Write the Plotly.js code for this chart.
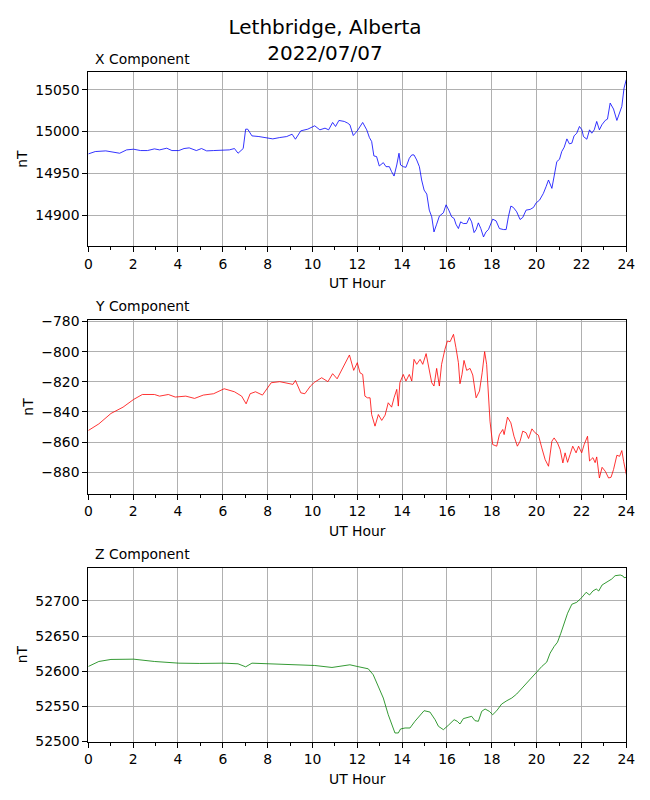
<!DOCTYPE html>
<html>
<head>
<meta charset="utf-8">
<script src="https://cdn.plot.ly/plotly-3.0.1.min.js"></script>
<style>
  body { margin: 0; background: #fff; }
  #chart { width: 650px; height: 800px; }
</style>
</head>
<body>
<div id="chart"></div>
<script>
// Values (UT hour, nT)
const xHours = [0, 0.31, 0.78, 1.09, 1.40, 1.71, 2.02, 2.33, 2.64, 2.95, 3.18, 3.50, 3.73, 4.04, 4.27, 4.50, 4.82, 5.05, 5.28, 5.59, 5.98, 6.29, 6.52, 6.68, 6.91, 7.02, 7.11, 7.30, 7.61, 7.92, 8.23, 8.54, 8.85, 9.09, 9.24, 9.48, 9.79, 10.10, 10.33, 10.56, 10.72, 10.90, 11.03, 11.18, 11.42, 11.57, 11.67, 11.82, 12.00, 12.24, 12.42, 12.54, 12.64, 12.74, 12.86, 12.98, 13.16, 13.28, 13.43, 13.53, 13.64, 13.76, 13.86, 13.93, 14.05, 14.17, 14.32, 14.43, 14.53, 14.65, 14.77, 14.87, 14.98, 15.10, 15.21, 15.32, 15.42, 15.54, 15.66, 15.84, 15.96, 16.08, 16.21, 16.32, 16.40, 16.51, 16.61, 16.73, 16.88, 17.00, 17.10, 17.21, 17.30, 17.40, 17.51, 17.63, 17.74, 17.85, 17.95, 18.04, 18.19, 18.34, 18.52, 18.64, 18.74, 18.85, 18.96, 19.11, 19.26, 19.38, 19.53, 19.71, 19.86, 19.98, 20.13, 20.30, 20.42, 20.53, 20.68, 20.78, 20.90, 21.02, 21.12, 21.23, 21.35, 21.46, 21.57, 21.67, 21.79, 21.91, 22.02, 22.09, 22.24, 22.36, 22.46, 22.57, 22.68, 22.80, 22.91, 23.06, 23.16, 23.28, 23.43, 23.58, 23.70, 23.80, 23.90, 24.00];
const xValues = [14973.4, 14976.2, 14977.0, 14975.4, 14974.2, 14978.2, 14979.0, 14977.4, 14977.4, 14979.4, 14978.2, 14980.2, 14977.4, 14977.4, 14979.8, 14980.6, 14977.4, 14979.8, 14977.0, 14977.4, 14977.8, 14978.2, 14979.8, 14974.2, 14979.8, 15002.9, 15002.9, 14994.9, 14994.1, 14992.9, 14991.3, 14992.9, 14994.1, 14996.9, 14990.9, 15000.9, 15002.9, 15006.9, 15002.1, 15004.1, 15002.1, 15010.9, 15006.1, 15013.3, 15012.1, 15010.1, 15008.1, 14995.3, 15000.9, 15010.9, 15002.1, 14992.9, 14988.2, 14971.0, 14970.2, 14959.0, 14963.0, 14958.2, 14958.2, 14952.2, 14947.0, 14960.2, 14974.2, 14960.2, 14958.2, 14957.4, 14968.2, 14972.2, 14972.2, 14966.2, 14958.2, 14942.3, 14930.3, 14925.5, 14906.4, 14898.4, 14880.4, 14889.6, 14899.2, 14903.2, 14912.7, 14906.4, 14898.4, 14896.4, 14889.6, 14884.4, 14892.4, 14890.4, 14890.4, 14897.6, 14892.4, 14879.6, 14883.2, 14891.2, 14884.4, 14874.4, 14880.4, 14883.2, 14889.6, 14895.6, 14893.6, 14884.4, 14883.2, 14883.2, 14898.4, 14911.2, 14909.6, 14904.4, 14895.2, 14897.6, 14906.4, 14907.2, 14909.6, 14915.1, 14918.3, 14926.3, 14934.3, 14942.3, 14932.3, 14946.3, 14964.2, 14967.0, 14976.2, 14981.4, 14991.3, 14985.4, 14986.2, 14994.9, 14998.1, 15006.1, 15002.1, 14994.1, 14990.9, 15002.1, 14998.1, 15002.1, 15012.1, 15002.1, 15008.1, 15013.3, 15014.9, 15034.0, 15026.9, 15013.3, 15022.1, 15030.0, 15052.0, 15062.0];

const yHours = [0, 0.47, 1.01, 1.55, 2.02, 2.41, 2.95, 3.18, 3.57, 3.88, 4.35, 4.74, 5.13, 5.59, 6.06, 6.52, 6.84, 7.04, 7.22, 7.46, 7.77, 8.16, 8.54, 8.85, 9.13, 9.24, 9.48, 9.66, 9.91, 10.10, 10.41, 10.69, 10.90, 11.10, 11.34, 11.50, 11.65, 11.84, 12.00, 12.12, 12.24, 12.34, 12.45, 12.57, 12.64, 12.79, 12.94, 13.09, 13.24, 13.38, 13.53, 13.64, 13.76, 13.83, 13.90, 14.05, 14.17, 14.32, 14.43, 14.53, 14.65, 14.80, 14.92, 15.07, 15.17, 15.32, 15.42, 15.54, 15.66, 15.76, 15.91, 16.02, 16.14, 16.29, 16.40, 16.51, 16.58, 16.67, 16.76, 16.88, 17.03, 17.15, 17.30, 17.45, 17.57, 17.68, 17.77, 17.85, 17.92, 18.04, 18.22, 18.34, 18.49, 18.55, 18.70, 18.85, 18.99, 19.14, 19.26, 19.38, 19.53, 19.64, 19.79, 19.93, 20.08, 20.23, 20.38, 20.53, 20.68, 20.78, 20.93, 21.05, 21.17, 21.27, 21.38, 21.49, 21.61, 21.76, 21.87, 22.01, 22.12, 22.27, 22.36, 22.51, 22.61, 22.68, 22.80, 22.92, 23.06, 23.21, 23.32, 23.43, 23.58, 23.70, 23.80, 23.88, 24.00];
const yValues = [-852.3, -847.9, -841.0, -836.8, -831.7, -828.4, -828.4, -829.5, -828.4, -830.1, -829.5, -831.0, -828.8, -827.9, -824.6, -826.6, -829.5, -834.6, -827.9, -826.6, -828.8, -820.6, -819.9, -821.0, -821.7, -819.1, -827.3, -827.9, -822.8, -820.2, -817.3, -819.9, -814.6, -818.0, -810.6, -806.6, -802.2, -812.4, -807.3, -814.0, -815.1, -829.5, -830.6, -830.6, -841.7, -849.4, -841.7, -845.6, -842.1, -833.9, -836.8, -830.6, -825.0, -836.1, -820.6, -815.1, -819.5, -815.1, -819.5, -805.1, -808.4, -805.1, -808.4, -801.3, -809.5, -820.6, -822.8, -811.1, -822.8, -808.4, -798.4, -792.9, -793.4, -788.5, -797.3, -807.3, -821.3, -815.1, -805.8, -812.4, -811.1, -815.5, -830.6, -826.1, -814.0, -800.0, -808.4, -832.8, -846.1, -861.6, -862.7, -855.0, -851.6, -855.0, -843.4, -847.2, -856.1, -862.7, -859.4, -852.7, -853.8, -857.6, -851.2, -853.8, -855.4, -863.8, -871.6, -876.0, -859.4, -857.2, -860.5, -864.9, -873.8, -867.1, -873.4, -868.3, -862.7, -867.1, -862.7, -867.1, -861.6, -856.1, -872.5, -870.3, -873.6, -869.8, -883.8, -876.7, -879.3, -883.8, -883.3, -878.2, -868.7, -869.4, -865.6, -872.7, -881.5];

const zHours = [0, 0.47, 1.01, 2.02, 2.95, 4.04, 4.97, 6.06, 6.68, 7.02, 7.30, 8.08, 9.17, 10.10, 10.87, 11.34, 11.67, 12.00, 12.27, 12.49, 12.71, 12.94, 13.16, 13.38, 13.53, 13.68, 13.83, 13.93, 14.13, 14.35, 14.57, 14.80, 14.98, 15.24, 15.47, 15.62, 15.84, 16.06, 16.32, 16.46, 16.58, 16.73, 16.96, 17.10, 17.25, 17.40, 17.55, 17.70, 17.89, 18.04, 18.22, 18.44, 18.67, 18.89, 19.11, 19.41, 19.71, 20.01, 20.23, 20.45, 20.60, 20.78, 20.93, 21.08, 21.23, 21.38, 21.57, 21.79, 22.01, 22.21, 22.36, 22.51, 22.66, 22.77, 22.92, 23.13, 23.35, 23.50, 23.73, 23.85, 23.90, 24.00];
const zValues = [52606.8, 52613.9, 52616.8, 52617.2, 52613.9, 52611.5, 52611.1, 52611.5, 52610.6, 52606.3, 52611.5, 52610.6, 52609.2, 52608.2, 52605.4, 52607.8, 52609.2, 52606.8, 52604.5, 52603.5, 52595.0, 52578.4, 52561.9, 52538.2, 52524.0, 52512.2, 52512.2, 52517.9, 52519.3, 52519.3, 52528.8, 52538.2, 52543.9, 52542.0, 52531.1, 52521.7, 52516.9, 52523.1, 52531.1, 52528.8, 52525.0, 52532.6, 52534.5, 52535.9, 52529.7, 52528.8, 52543.0, 52546.3, 52543.0, 52538.2, 52543.9, 52553.4, 52558.1, 52561.9, 52567.6, 52578.4, 52588.8, 52598.6, 52606.8, 52613.0, 52625.7, 52635.2, 52641.3, 52654.1, 52668.3, 52682.5, 52695.3, 52698.1, 52704.7, 52712.3, 52708.5, 52714.2, 52717.0, 52714.2, 52722.7, 52727.4, 52731.2, 52735.9, 52736.9, 52735.5, 52733.1, 52733.6];

const hourTicks = [0, 2, 4, 6, 8, 10, 12, 14, 16, 18, 20, 22, 24];

const font = {family: 'DejaVu Sans', size: 13.9, color: '#000'};
const xDomain = [88.3 / 650, 626.3 / 650];

function hourAxis(anchor) {
    return {
        anchor: anchor, domain: xDomain, range: [0, 24],
        tickvals: hourTicks, ticks: 'outside', ticklen: 5, tickwidth: 1, tickcolor: '#000',
        showline: true, mirror: true, linecolor: '#000', linewidth: 1,
        showgrid: true, gridcolor: '#b0b0b0', gridwidth: 1, zeroline: false,
        minor: {dtick: 1, ticks: 'outside', ticklen: 3, tickcolor: '#000', showgrid: false},
        tickfont: font,
        title: {text: 'UT Hour', font: font, standoff: 7}
    };
}

function ntAxis(anchor, domain, range, dtick, fmt) {
    return {
        anchor: anchor, domain: domain, range: range, dtick: dtick,
        tickformat: fmt, exponentformat: 'none',
        ticks: 'outside', ticklen: 5, tickwidth: 1, tickcolor: '#000',
        showline: true, mirror: true, linecolor: '#000', linewidth: 1,
        showgrid: true, gridcolor: '#b0b0b0', gridwidth: 1, zeroline: false,
        tickfont: font,
        title: {text: 'nT', font: font, standoff: 4}
    };
}

const traces = [
    {x: xHours, y: xValues, xaxis: 'x', yaxis: 'y', type: 'scatter', mode: 'lines', line: {color: '#0000ff', width: 0.8}},
    {x: yHours, y: yValues, xaxis: 'x2', yaxis: 'y2', type: 'scatter', mode: 'lines', line: {color: '#ff0000', width: 0.8}},
    {x: zHours, y: zValues, xaxis: 'x3', yaxis: 'y3', type: 'scatter', mode: 'lines', line: {color: '#008000', width: 0.8}}
];

const layout = {
    width: 650, height: 800,
    margin: {t: 0, l: 0, r: 0, b: 0},
    paper_bgcolor: '#fff', plot_bgcolor: '#fff',
    showlegend: false,
    font: font,
    title: {
        text: 'Lethbridge, Alberta<br>2022/07/07',
        font: {family: 'DejaVu Sans', size: 20, color: '#000'},
        x: 0.5, xanchor: 'center', xref: 'paper',
        y: 1 - 34 / 800, yanchor: 'middle', yref: 'container'
    },
    xaxis: hourAxis('y'),
    xaxis2: hourAxis('y2'),
    xaxis3: hourAxis('y3'),
    yaxis: ntAxis('x', [1 - 246 / 800, 1 - 72.3 / 800], [14863.6, 15070.7], 50, 'd'),
    yaxis2: ntAxis('x2', [1 - 493.7 / 800, 1 - 320.3 / 800], [-894.2, -779.2], 20, ''),
    yaxis3: ntAxis('x3', [1 - 741.7 / 800, 1 - 567.7 / 800], [52499.8, 52747.3], 50, 'd'),
    annotations: [
        {text: 'X Component', x: 92.5 / 650, y: 1 - 59 / 800},
        {text: 'Y Component', x: 92.5 / 650, y: 1 - 306 / 800},
        {text: 'Z Component', x: 92.5 / 650, y: 1 - 554 / 800}
    ].map(a => Object.assign(a, {xref: 'paper', yref: 'paper', xanchor: 'left', yanchor: 'middle', showarrow: false, font: font}))
};

Plotly.newPlot('chart', traces, layout, {staticPlot: true});
</script>
</body>
</html>
